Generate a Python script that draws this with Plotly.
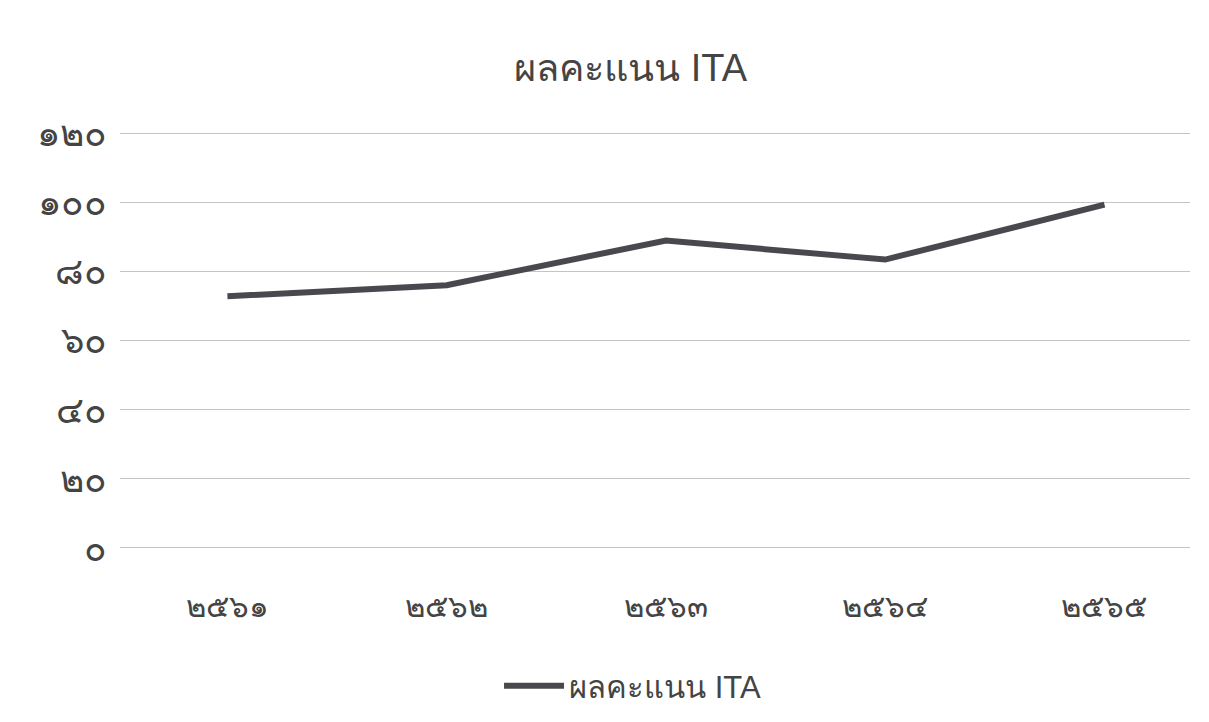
import plotly.graph_objects as go

years = ["2561", "2562", "2563", "2564", "2565"]
year_labels = ["๒๕๖๑", "๒๕๖๒", "๒๕๖๓", "๒๕๖๔", "๒๕๖๕"]
scores = [72.8, 76.0, 88.9, 83.4, 99.3]
y_tickvals = [0, 20, 40, 60, 80, 100, 120]
y_ticktext = ["๐", "๒๐", "๔๐", "๖๐", "๘๐", "๑๐๐", "๑๒๐"]
series_name = "ผลคะแนน ITA"
title_text = "ผลคะแนน ITA"

fig = go.Figure()
fig.add_trace(go.Scatter(
    x=list(range(len(years))), y=scores, mode="lines", name=series_name,
    line=dict(color="#48484e", width=6),
))

font_family = "Liberation Sans, Noto Sans, DejaVu Sans, sans-serif"
fig.update_layout(
    width=1209, height=722,
    paper_bgcolor="white", plot_bgcolor="white",
    margin=dict(l=112, r=27, t=124, b=181, autoexpand=False),
    title=dict(text=title_text, x=0.515, xanchor="center", y=0.917, yanchor="middle",
               font=dict(family=font_family, size=38, color="#444444")),
    showlegend=True,
    legend=dict(orientation="h", x=0.479, xanchor="center", y=-0.329, yanchor="middle",
                font=dict(family=font_family, size=31, color="#444444"),
                itemwidth=60),
    font=dict(family=font_family, color="#444444"),
)
fig.update_xaxes(
    range=[-0.49, 4.39], tickvals=list(range(len(years))), ticktext=year_labels,
    showgrid=False, zeroline=False, showline=False, ticks="", automargin=False,
    tickfont=dict(size=31, color="#444444"), ticklabelstandoff=36,
)
fig.update_yaxes(
    range=[-0.3, 120.3], tickvals=y_tickvals, ticktext=y_ticktext,
    showgrid=True, gridcolor="#c4c4c4", gridwidth=1, zeroline=False, showline=False,
    ticks="", automargin=False, tickfont=dict(size=37, color="#444444"), ticklabelstandoff=12,
)

fig.write_html("out.html")
